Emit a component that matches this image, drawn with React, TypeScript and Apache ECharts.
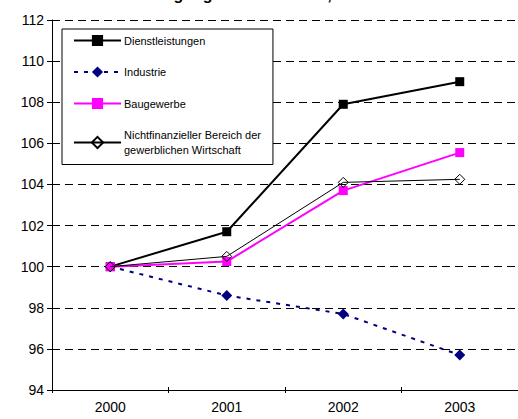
import React, { useEffect, useRef } from "react";
import * as echarts from "echarts";

const years = ["2000", "2001", "2002", "2003"];
const dienstleistungen = [100, 101.7, 107.9, 109.0];
const industrie = [100, 98.6, 97.7, 95.7];
const baugewerbe = [100, 100.25, 103.7, 105.55];
const nichtfinanz = [100, 100.5, 104.1, 104.25];
const seriesNames = [
  "Dienstleistungen",
  "Industrie",
  "Baugewerbe",
  "Nichtfinanzieller Bereich der\ngewerblichen Wirtschaft",
];
const titleText = "Beschäftigung nach Sektoren, 2000 = 100";

export default function App() {
  const ref = useRef<HTMLDivElement>(null);
  useEffect(() => {
    document.body.style.margin = "0";
    const chart = echarts.init(ref.current!, null, { renderer: "svg" });
    const font = "Arial, 'Liberation Sans', sans-serif";
    chart.setOption({
      animation: false,
      backgroundColor: "#fff",
      textStyle: { fontFamily: font },
      graphic: [
        {
          type: "text",
          left: "center",
          top: -14,
          style: {
            text: titleText,
            font: "bold 16px Arial, 'Liberation Sans', sans-serif",
            fill: "#000",
          },
        },
      ],
      grid: { left: 52, top: 20, width: 468, height: 370 },
      xAxis: [
        {
          type: "category",
          data: years,
          boundaryGap: true,
          axisLine: { lineStyle: { color: "#000", width: 1 } },
          axisTick: { show: true, length: 3, lineStyle: { color: "#000" } },
          axisLabel: { color: "#000", fontSize: 14, margin: 10, fontFamily: font },
          splitLine: { show: false },
        },
        {
          type: "category",
          data: years,
          position: "bottom",
          boundaryGap: true,
          axisLine: { show: false },
          axisTick: { show: true, inside: true, length: 3, lineStyle: { color: "#000" } },
          axisLabel: { show: false },
          splitLine: { show: false },
        },
      ],
      yAxis: [
        {
          type: "value",
          min: 94,
          max: 112,
          interval: 2,
          axisLine: { show: true, lineStyle: { color: "#000", width: 1 } },
          axisTick: { show: true, length: 5, lineStyle: { color: "#000" } },
          axisLabel: { color: "#000", fontSize: 14, margin: 8, fontFamily: font },
          splitLine: {
            show: true,
            lineStyle: { color: "#000", type: [8, 5], width: 1 },
          },
        },
        {
          type: "value",
          min: 94,
          max: 112,
          interval: 2,
          position: "left",
          axisLine: { show: false },
          axisTick: { show: true, inside: true, length: 5, lineStyle: { color: "#000" } },
          axisLabel: { show: false },
          splitLine: { show: false },
        },
      ],
      legend: {
        orient: "vertical",
        left: 62,
        top: 29,
        padding: [4, 12, 7, 11],
        itemGap: 16.5,
        itemWidth: 47,
        itemHeight: 14,
        backgroundColor: "#fff",
        borderColor: "#000",
        borderWidth: 1,
        borderRadius: 0,
        selectedMode: false,
        textStyle: {
          color: "#000",
          fontSize: 11,
          lineHeight: 15,
          fontFamily: font,
          padding: [0, 0, 0, -2],
        },
        data: seriesNames,
      },
      series: [
        {
          name: seriesNames[0],
          type: "line",
          data: dienstleistungen,
          symbol: "rect",
          symbolSize: 9,
          itemStyle: { color: "#000" },
          lineStyle: { color: "#000", width: 2 },
          z: 2,
        },
        {
          name: seriesNames[1],
          type: "line",
          data: industrie,
          symbol: "diamond",
          symbolSize: 11,
          itemStyle: { color: "#000080" },
          lineStyle: { color: "#000080", width: 2, type: [4, 6] },
          z: 3,
        },
        {
          name: seriesNames[2],
          type: "line",
          data: baugewerbe,
          symbol: "rect",
          symbolSize: 9,
          itemStyle: { color: "#ff00ff" },
          lineStyle: { color: "#ff00ff", width: 2 },
          z: 4,
        },
        {
          name: seriesNames[3],
          type: "line",
          data: nichtfinanz,
          symbol: "diamond",
          symbolSize: 10,
          showAllSymbol: true,
          itemStyle: { color: "rgba(255,255,255,0)", borderColor: "#000", borderWidth: 1 },
          lineStyle: { color: "#000", width: 1 },
          z: 5,
        },
      ],
    });
    return () => chart.dispose();
  }, []);
  return <div ref={ref} style={{ width: 518, height: 419 }} />;
}
